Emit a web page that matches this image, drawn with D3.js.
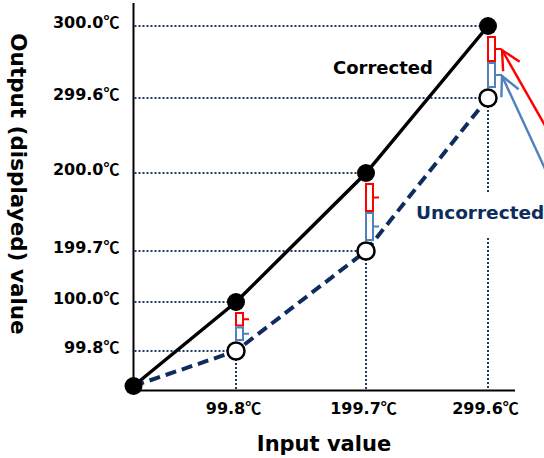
<!DOCTYPE html>
<html>
<head>
<meta charset="utf-8">
<script src="https://cdn.jsdelivr.net/npm/d3@7"></script>
<style>
body { margin: 0; background: #fff; }
text { font-family: Verdana, "DejaVu Sans", sans-serif; font-weight: bold; }
tspan.deg { font-family: "Noto Sans CJK JP", "DejaVu Sans", sans-serif; }
</style>
</head>
<body>
<div id="container"></div>
<script>
// input (true) temperatures and the two output series
let inputs = [0, 99.8, 199.7, 299.6]
let corrected = [0, 100.0, 200.0, 300.0]
let uncorrected = [0, 99.8, 199.7, 299.6]

let yTicks = [99.8, 100.0, 199.7, 200.0, 299.6, 300.0]
let yTickLabels = ['99.8℃', '100.0℃', '199.7℃', '200.0℃', '299.6℃', '300.0℃']
let xTicks = [99.8, 199.7, 299.6]
let xTickLabels = ['99.8℃', '199.7℃', '299.6℃']

let svgWidth = 544;
let svgHeight = 458;
let navy = '#0e2d5e';
let dotted = '#203864';
let red = '#ff0000';
let blue = '#4f81bd';

// schematic (not to scale) axes -> piecewise linear scales
let xScale = d3.scaleLinear()
               .domain([0].concat(xTicks))
               .range([133.5, 236, 366, 488])
let yScale = d3.scaleLinear()
               .domain([0].concat(yTicks))
               .range([386, 351, 302, 251, 173, 98, 26])

let axisY = 390.5;
let dotR = 9;

let svg = d3.select('#container')
            .append('svg')
            .attr('width', svgWidth)
            .attr('height', svgHeight);

let defs = svg.append('defs');
[['arrRed', red], ['arrBlue', blue]].forEach(m => {
    defs.append('marker')
        .attr('id', m[0])
        .attr('viewBox', '-22 -12 26 24')
        .attr('refX', 0).attr('refY', 0)
        .attr('markerUnits', 'userSpaceOnUse')
        .attr('markerWidth', 26).attr('markerHeight', 24)
        .attr('orient', 'auto')
        .append('path')
        .attr('d', 'M-19,-9.5 L0,0 L-19,9.5')
        .attr('fill', 'none')
        .attr('stroke', m[1])
        .attr('stroke-width', 2.4);
});

// axes lines
svg.append('line')
   .attr('x1', xScale(0)).attr('x2', xScale(0))
   .attr('y1', 3).attr('y2', axisY + 1)
   .attr('stroke', 'black').attr('stroke-width', 2);
svg.append('line')
   .attr('x1', xScale(0) - 1).attr('x2', 515)
   .attr('y1', axisY).attr('y2', axisY)
   .attr('stroke', 'black').attr('stroke-width', 2);

// split "99.8℃" so that the ℃ sign uses a CJK font like the original
let degLabel = function(sel) {
    sel.each(function() {
        let t = d3.select(this);
        let s = t.text();
        t.text(s.replace('℃', ''));
        t.append('tspan').attr('class', 'deg').text('℃');
    });
};

let gy = svg.append('g')
            .attr('transform', 'translate(' + xScale(0) + ',0)')
            .call(d3.axisLeft(yScale).tickValues(yTicks)
                    .tickFormat((d, i) => yTickLabels[i])
                    .tickSize(0).tickPadding(14));
gy.select('.domain').remove();
gy.selectAll('text').attr('dy', '0.12em').style('font-size', '16px').attr('fill', 'black').call(degLabel);

let gx = svg.append('g')
            .attr('transform', 'translate(0,' + axisY + ')')
            .call(d3.axisBottom(xScale).tickValues(xTicks)
                    .tickFormat((d, i) => xTickLabels[i])
                    .tickSize(0).tickPadding(12));
gx.select('.domain').remove();
gx.selectAll('text').attr('dx', -3).style('font-size', '16px').attr('fill', 'black').call(degLabel);

// dotted guide lines
let pts = inputs.map((d, i) => ({x: d, c: corrected[i], u: uncorrected[i]})).filter(d => d.x > 0);
let guides = svg.append('g')
                .attr('stroke', dotted)
                .attr('stroke-width', 2)
                .attr('stroke-dasharray', '2,2');
pts.forEach(p => {
    [p.c, p.u].forEach(v => {
        guides.append('line')
              .attr('x1', xScale(0) + 1).attr('x2', xScale(p.x))
              .attr('y1', yScale(v)).attr('y2', yScale(v));
    });
    guides.append('line')
          .attr('x1', xScale(p.x)).attr('x2', xScale(p.x))
          .attr('y1', yScale(p.u)).attr('y2', axisY - 1);
});

// white box of the "Uncorrected" label
svg.append('rect')
   .attr('x', 414).attr('y', 193)
   .attr('width', 130).attr('height', 45)
   .attr('fill', 'white');

// series lines
let line = d3.line().x(d => xScale(d[0])).y(d => yScale(d[1]));
svg.append('path')
   .attr('d', line(inputs.map((d, i) => [d, uncorrected[i]])))
   .attr('fill', 'none')
   .attr('stroke', navy)
   .attr('stroke-width', 4)
   .attr('stroke-dasharray', '11,6');
svg.append('path')
   .attr('d', line(inputs.map((d, i) => [d, corrected[i]])))
   .attr('fill', 'none')
   .attr('stroke', 'black')
   .attr('stroke-width', 3.5);

// difference brackets
let brackets = svg.append('g').attr('fill', 'none').attr('stroke-width', 2);
let bracket = (x, y0, y1) => 'M' + x + ',' + y0 + 'H' + (x + 7) + 'V' + y1 + 'H' + x + 'Z' +
                             'M' + (x + 7) + ',' + ((y0 + y1) / 2) + 'H' + (x + 13);
let tips = [];
pts.forEach(p => {
    let x = xScale(p.x);
    let yc = yScale(p.c) + dotR + 2;
    let yu = yScale(p.u) - dotR - 2;
    let ym = (yc + yu) / 2;
    brackets.append('path').attr('d', bracket(x, yc, ym - 1)).attr('stroke', red);
    brackets.append('path').attr('d', bracket(x, ym + 1, yu)).attr('stroke', blue);
    tips = [[x + 13, (yc + ym - 1) / 2], [x + 13, (ym + 1 + yu) / 2]];
});

// arrows pointing at the last pair of brackets
[[tips[0], [43, 75], red, 'arrRed'], [tips[1], [42, 90], blue, 'arrBlue']].forEach(a => {
    svg.append('line')
       .attr('x1', a[0][0] + a[1][0] * 1.6).attr('y1', a[0][1] + a[1][1] * 1.6)
       .attr('x2', a[0][0] + 1).attr('y2', a[0][1] + 1)
       .attr('stroke', a[2])
       .attr('stroke-width', 2.4)
       .attr('marker-end', 'url(#' + a[3] + ')');
});

// points
svg.selectAll('circle.unc')
   .data(pts)
   .enter()
   .append('circle')
   .attr('class', 'unc')
   .attr('cx', d => xScale(d.x))
   .attr('cy', d => yScale(d.u))
   .attr('r', dotR - 0.5)
   .attr('fill', 'white')
   .attr('stroke', 'black')
   .attr('stroke-width', 2.5);
svg.selectAll('circle.cor')
   .data(inputs)
   .enter()
   .append('circle')
   .attr('class', 'cor')
   .attr('cx', (d, i) => xScale(d))
   .attr('cy', (d, i) => yScale(corrected[i]))
   .attr('r', dotR)
   .attr('fill', 'black');

// labels
svg.append('text')
   .attr('x', 333).attr('y', 74)
   .style('font-size', '18px')
   .attr('fill', 'black')
   .text('Corrected');
svg.append('text')
   .attr('x', 416).attr('y', 219)
   .style('font-size', '18.5px')
   .attr('fill', navy)
   .text('Uncorrected');

svg.append('text')
   .attr('x', 324).attr('y', 451)
   .attr('text-anchor', 'middle')
   .style('font-size', '21px')
   .text('Input value');
svg.append('text')
   .attr('transform', 'translate(11,184) rotate(90)')
   .attr('text-anchor', 'middle')
   .style('font-size', '21.5px')
   .text('Output (displayed) value');
</script>
</body>
</html>
